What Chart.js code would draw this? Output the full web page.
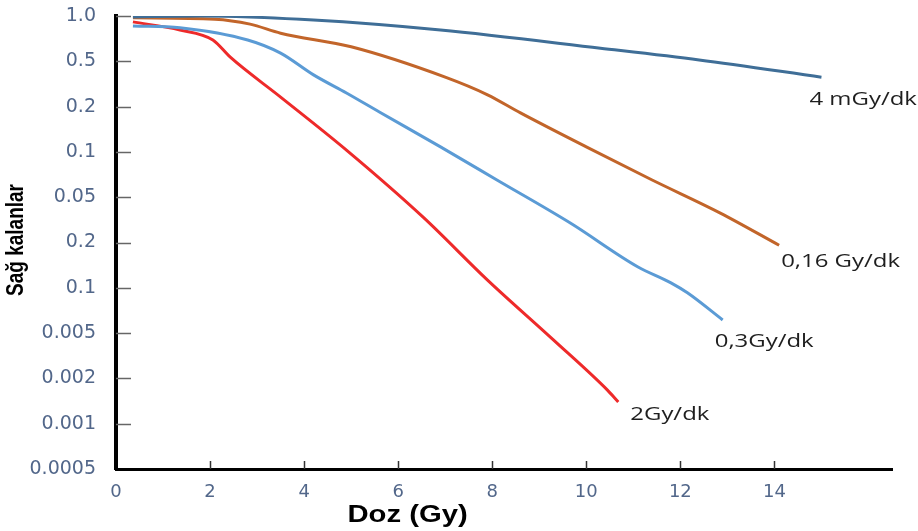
<!DOCTYPE html>
<html>
<head>
<meta charset="utf-8">
<script src="https://cdn.jsdelivr.net/npm/chart.js@4/dist/chart.umd.min.js"></script>
<style>
  html, body { margin: 0; padding: 0; background: #fff; }
  #wrap { width: 918px; height: 531px; position: relative; }
</style>
</head>
<body>
<div id="wrap"><canvas id="c"></canvas></div>
<script>
// Y axis tick labels (bottom to top, evenly spaced as in the original figure)
const yTickLabels = ['0.0005', '0.001', '0.002', '0.005', '0.1', '0.2', '0.05', '0.1', '0.2', '0.5', '1.0'];

// Series: dose (Gy) and position on the evenly spaced y axis (tick index units)
const dose4mGy   = [0.36, 1.8, 4.2, 6.9, 10.3, 12.4, 15.0];
const surv4mGy   = [9.98, 10.0, 9.91, 9.69, 9.29, 9.03, 8.65];

const dose016Gy  = [0.36, 2.1, 2.85, 3.5, 5.0, 7.0, 7.9, 8.6, 10.0, 11.4, 12.85, 14.1];
const surv016Gy  = [9.96, 9.93, 9.82, 9.62, 9.32, 8.65, 8.26, 7.86, 7.11, 6.38, 5.65, 4.94];

const dose03Gy   = [0.36, 1.36, 2.8, 3.5, 4.2, 4.9, 5.6, 6.9, 8.1, 9.66, 11.1, 11.8, 12.15, 12.9];
const surv03Gy   = [9.78, 9.74, 9.47, 9.18, 8.70, 8.30, 7.88, 7.11, 6.38, 5.43, 4.46, 4.11, 3.89, 3.29];

const dose2Gy    = [0.36, 1.36, 2.06, 2.43, 3.5, 4.9, 6.53, 7.9, 9.3, 10.45, 10.68];
const surv2Gy    = [9.87, 9.69, 9.47, 9.09, 8.21, 7.04, 5.56, 4.17, 2.85, 1.74, 1.48];

const seriesNames = ['4 mGy/dk', '0,16 Gy/dk', '0,3Gy/dk', '2Gy/dk'];
const xTitle = 'Doz (Gy)';
const yTitle = 'Sağ kalanlar';

function pts(xs, ys) { return xs.map((x, i) => ({ x: x, y: ys[i] })); }

const colors = ['#3f6e97', '#c2652a', '#5b9bd5', '#ee2a2a'];

// label placement relative to the last point of each series (pixels)
const labelOffsets = [[-12, 23], [2, 17], [-8, 22], [12, 13]];

const decorPlugin = {
  id: 'decor',
  afterDraw(chart) {
    const ctx = chart.ctx;
    const xs = chart.scales.x, ys = chart.scales.y;
    const area = chart.chartArea;
    ctx.save();
    // inward tick marks on y axis
    ctx.strokeStyle = '#666';
    ctx.lineWidth = 1.5;
    ys.ticks.forEach(t => {
      if (t.value <= ys.min) return;
      const py = Math.round(ys.getPixelForValue(t.value)) + 0.5;
      ctx.beginPath();
      ctx.moveTo(area.left, py);
      ctx.lineTo(area.left + 15, py);
      ctx.stroke();
    });
    // inward tick marks on x axis
    ctx.strokeStyle = '#333';
    xs.ticks.forEach(t => {
      if (t.value <= xs.min) return;
      const px = Math.round(xs.getPixelForValue(t.value)) + 0.5;
      ctx.beginPath();
      ctx.moveTo(px, area.bottom);
      ctx.lineTo(px, area.bottom - 8);
      ctx.stroke();
    });
    // series end labels
    ctx.fillStyle = '#1e1e1e';
    ctx.font = '18px "Open Sans"';
    ctx.textBaseline = 'middle';
    ctx.textAlign = 'left';
    chart.data.datasets.forEach((ds, i) => {
      const last = ds.data[ds.data.length - 1];
      const px = xs.getPixelForValue(last.x) + labelOffsets[i][0];
      const py = ys.getPixelForValue(last.y) + labelOffsets[i][1];
      ctx.save();
      ctx.translate(px, py);
      ctx.scale(1.33, 1);
      ctx.fillText(seriesNames[i], 0, 0);
      ctx.restore();
    });
    // x title
    ctx.fillStyle = '#000';
    ctx.font = 'bold 24px "Liberation Sans"';
    ctx.textAlign = 'center';
    ctx.save();
    ctx.translate(xs.getPixelForValue(6.2), 515);
    ctx.scale(1.22, 1);
    ctx.fillText(xTitle, 0, 0);
    ctx.restore();
    // y title
    ctx.font = 'bold 19px "Liberation Sans"';
    ctx.save();
    ctx.translate(16, 240);
    ctx.scale(1.3, 1);
    ctx.rotate(-Math.PI / 2);
    ctx.fillText(yTitle, 0, 0);
    ctx.restore();
    ctx.restore();
  }
};

const data = {
  datasets: [
    { label: seriesNames[0], data: pts(dose4mGy, surv4mGy) },
    { label: seriesNames[1], data: pts(dose016Gy, surv016Gy) },
    { label: seriesNames[2], data: pts(dose03Gy, surv03Gy) },
    { label: seriesNames[3], data: pts(dose2Gy, surv2Gy) }
  ].map((d, i) => Object.assign(d, {
    borderColor: colors[i],
    backgroundColor: colors[i],
    borderWidth: 3,
    pointRadius: 0,
    fill: false,
    cubicInterpolationMode: 'monotone'
  }))
};

new Chart(document.getElementById('c'), {
  type: 'line',
  data: data,
  options: {
    responsive: true,
    maintainAspectRatio: false,
    animation: false,
    layout: { padding: { left: 0, right: 26, top: 16, bottom: 0 } },
    plugins: { legend: { display: false }, tooltip: { enabled: false } },
    scales: {
      x: {
        type: 'linear',
        min: 0,
        max: 16.5,
        grid: { display: false },
        border: { display: true, color: '#000', width: 3 },
        ticks: {
          stepSize: 2,
          padding: 5,
          color: '#52678a',
          font: { family: '"DejaVu Sans"', size: 18 }
        },
        afterBuildTicks(scale) {
          scale.ticks = scale.ticks.filter(t => t.value <= 14 && Number.isInteger(t.value));
        },
        afterFit(scale) { scale.height = 62; }
      },
      y: {
        type: 'linear',
        min: 0,
        max: 10,
        grid: { display: false },
        border: { display: true, color: '#000', width: 4 },
        ticks: {
          stepSize: 1,
          padding: 12,
          color: '#52678a',
          font: { family: '"DejaVu Sans"', size: 19, lineHeight: 1 },
          callback: (v) => yTickLabels[v]
        },
        afterFit(scale) { scale.width = 116; scale.paddingTop = 0; scale.paddingBottom = 0; }
      }
    }
  },
  plugins: [decorPlugin]
});
</script>
</body>
</html>
